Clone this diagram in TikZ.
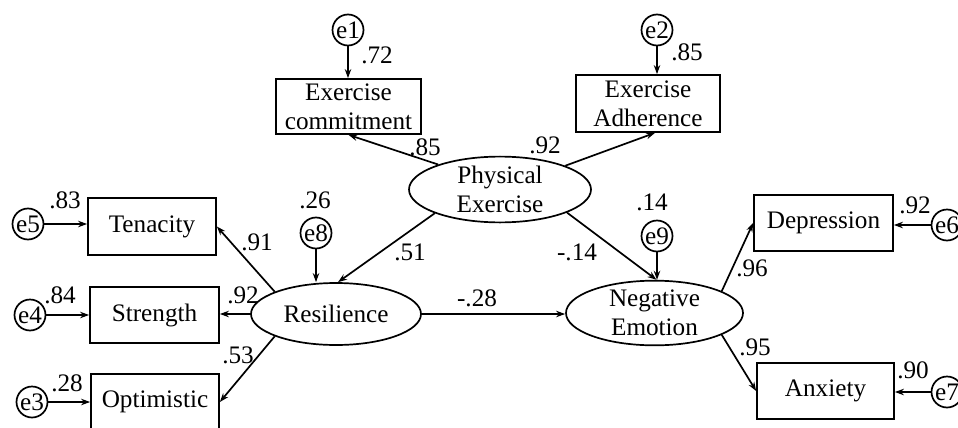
\documentclass[tikz,border=0pt]{standalone}
\usepackage{fontspec}
\setmainfont{Liberation Serif}
\usetikzlibrary{arrows.meta,shapes.geometric}
\begin{document}
\begin{tikzpicture}[x=0.5pt,y=-0.5pt,
  every node/.style={font=\fontsize{12.6}{14.4}\selectfont},
  obs/.style={draw,line width=0.85pt,rectangle,inner sep=0pt,align=center},
  lat/.style={draw,line width=0.85pt,ellipse,inner sep=0pt,align=center},
  err/.style={draw,line width=0.85pt,circle,inner sep=0pt,minimum size=15.5pt},
  lab/.style={inner sep=0pt},
  arr/.style={line width=0.85pt,-{Stealth[length=4.5pt,width=3.2pt]}}]
\useasboundingbox (0,0) rectangle (958,428);
% observed
\node[obs,minimum width=72.5pt,minimum height=27.5pt] (ec) at (348.5,106.5) {Exercise\\commitment};
\node[obs,minimum width=72pt,minimum height=28.5pt] (ea) at (648,103.5) {Exercise\\Adherence};
\node[obs,minimum width=64pt,minimum height=28.5pt] (ten) at (152,226.5) {Tenacity};
\node[obs,minimum width=64.5pt,minimum height=28pt] (str) at (154.5,315) {Strength};
\node[obs,minimum width=64pt,minimum height=28pt] (opt) at (155,402) {Optimistic};
\node[obs,minimum width=69.5pt,minimum height=28pt] (dep) at (823.5,223) {Depression};
\node[obs,minimum width=68.5pt,minimum height=28pt] (anx) at (825.5,391) {Anxiety};
% latent
\node[lat,minimum width=91pt,minimum height=31.5pt] (pe) at (500,189.5) {Physical\\Exercise};
\node[lat,minimum width=85pt,minimum height=31pt] (res) at (336,314) {Resilience};
\node[lat,minimum width=88.5pt,minimum height=30pt] (ne) at (654.5,313) {Negative\\Emotion};
% errors
\node[err] (e1) at (348,30) {e1};
\node[err] (e2) at (657,30) {e2};
\node[err] (e8) at (316,233) {e8};
\node[err] (e9) at (657,236) {e9};
\node[err] (e5) at (28,224) {e5};
\node[err] (e4) at (30,315) {e4};
\node[err] (e3) at (32,402) {e3};
\node[err] (e6) at (947,225) {e6};
\node[err] (e7) at (947,392) {e7};
% error arrows
\draw[arr] (e1.south) -- (e1.south |- ec.north);
\draw[arr] (e2.south) -- (e2.south |- ea.north);
\draw[arr] (e8.south) -- (e8.south |- res.north);
\draw[arr] (e9.south) -- (e9.south |- ne.north);
\draw[arr] (e5.east) -- (e5.east -| ten.west);
\draw[arr] (e4.east) -- (e4.east -| str.west);
\draw[arr] (e3.east) -- (e3.east -| opt.west);
\draw[arr] (e6.west) -- (e6.west -| dep.east);
\draw[arr] (e7.west) -- (e7.west -| anx.east);
% structural arrows
\draw[arr] (pe.158.7) -- (ec.south);
\draw[arr] (pe.20.7) -- ([xshift=3.5pt]ea.south);
\draw[arr] (pe.-160.7) -- ([xshift=1pt]res.north);
\draw[arr] (pe.-19.9) -- ([xshift=1pt]ne.north);
\draw[arr] (res.east) -- (res.east -| ne.west);
\draw[arr] (res.160.2) -- (ten.east);
\draw[arr] (res.west) -- (res.west -| str.east);
\draw[arr] (res.-160.2) -- (opt.east);
\draw[arr] (ne.18.3) -- (dep.west);
\draw[arr] (ne.-18.3) -- (anx.west);
% labels
\node[lab] (l1) at (377,55) {.72};
\node[lab] (l2) at (687,52) {.85};
\node[lab] (l3) at (425,147) {.85};
\node[lab] (l4) at (545,145) {.92};
\node[lab] (l5) at (315,200) {.26};
\node[lab] (l6) at (652,202) {.14};
\node[lab] (l7) at (410,252) {.51};
\node[lab] (l8) at (577,252) {-.14};
\node[lab] (l9) at (477,298) {-.28};
\node[lab] (l10) at (257,242) {.91};
\node[lab] (l11) at (243,295) {.92};
\node[lab] (l12) at (238,355) {.53};
\node[lab] (l13) at (65,200) {.83};
\node[lab] (l14) at (60,295) {.84};
\node[lab] (l15) at (67,383) {.28};
\node[lab] (l16) at (752,268) {.96};
\node[lab] (l17) at (755,347) {.95};
\node[lab] (l18) at (915,205) {.92};
\node[lab] (l19) at (913,370) {.90};
\end{tikzpicture}
\end{document}
